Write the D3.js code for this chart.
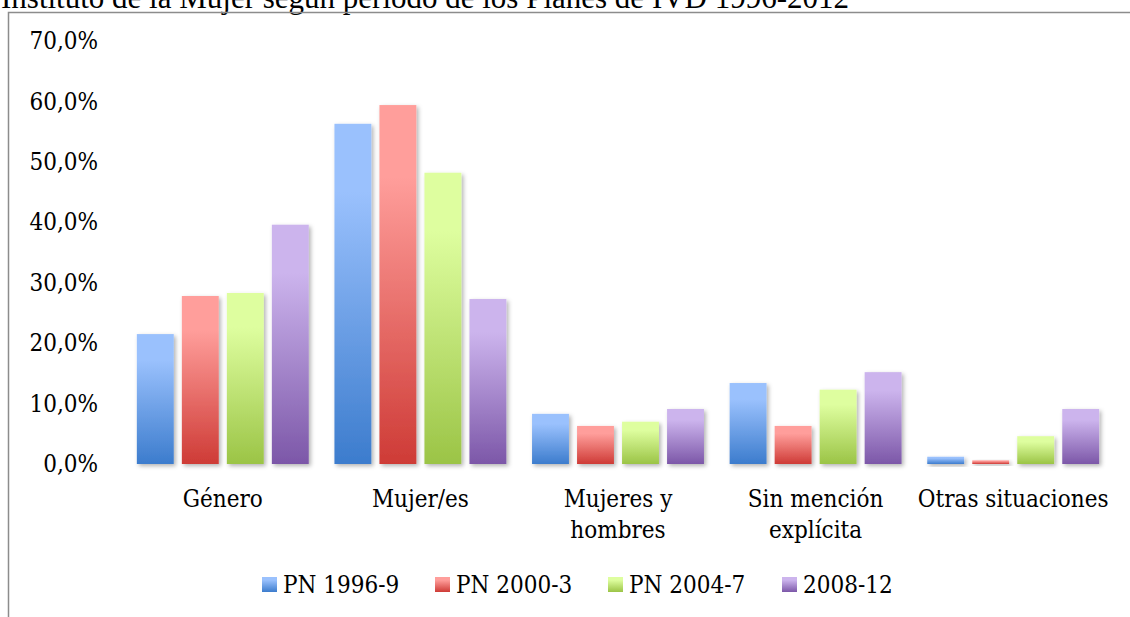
<!DOCTYPE html>
<meta charset="utf-8">
<script src="https://d3js.org/d3.v7.min.js"></script>
<style>
  body { margin: 0; background: #fff; overflow: hidden; }
  svg { display: block; }
  text { font-family: "DejaVu Serif Condensed", "DejaVu Serif", serif; fill: #000; }
</style>
<div id="my_dataviz"></div>
<script>

    // data (percent)
    const categories = ["Género", "Mujer/es", "Mujeres y hombres", "Sin mención explícita", "Otras situaciones"];
    const categoryLines = [["Género"], ["Mujer/es"], ["Mujeres y", "hombres"], ["Sin mención", "explícita"], ["Otras situaciones"]];
    const series = ["PN 1996-9", "PN 2000-3", "PN 2004-7", "2008-12"];
    const pn1996 = [21.5, 56.3, 8.3, 13.4, 1.2];
    const pn2000 = [27.8, 59.4, 6.3, 6.3, 0.6];
    const pn2004 = [28.3, 48.2, 7.0, 12.3, 4.6];
    const pn2008 = [39.6, 27.3, 9.1, 15.2, 9.1];
    const yTicks = [0, 10, 20, 30, 40, 50, 60, 70];
    const title = "Instituto de la Mujer según período de los Planes de IVD 1996-2012";

    const values = [pn1996, pn2000, pn2004, pn2008];
    const gradients = [
      ["#9ac1fd", "#3c7ccd"],
      ["#ff9e9b", "#ce3b36"],
      ["#defe9f", "#9bc446"],
      ["#ccb4ed", "#7c57a8"]
    ];

    const W = 1130, H = 617;
    const margin = {top: 41, right: 18, bottom: 153, left: 124};

    const svg = d3.select("#my_dataviz")
      .append("svg")
        .attr("width", W)
        .attr("height", H);

    const defs = svg.append("defs");
    gradients.forEach(function(g, i) {
      const lg = defs.append("linearGradient")
        .attr("id", "grad" + i)
        .attr("x1", 0).attr("y1", 0).attr("x2", 0).attr("y2", 1);
      lg.append("stop").attr("offset", "0%").attr("stop-color", g[0]);
      lg.append("stop").attr("offset", "20%").attr("stop-color", g[0]);
      lg.append("stop").attr("offset", "100%").attr("stop-color", g[1]);
    });
    defs.append("filter")
        .attr("id", "shadow")
        .attr("x", "-20%").attr("y", "-20%").attr("width", "150%").attr("height", "150%")
      .append("feDropShadow")
        .attr("dx", 2).attr("dy", 2).attr("stdDeviation", 2)
        .attr("flood-color", "#000").attr("flood-opacity", 0.3);

    // title, cut at the top as in the source
    svg.append("text")
      .attr("x", 1)
      .attr("y", 8)
      .style("font-family", "'Liberation Serif', serif")
      .style("font-size", "31px")
      .text(title);

    // frame
    svg.append("path")
      .attr("d", "M8.5," + H + "V12.5H" + W)
      .attr("fill", "none")
      .attr("stroke", "#8c8c8c")
      .attr("stroke-width", 1.5);

    // X scales
    const x0 = d3.scaleBand()
      .domain(categories)
      .range([margin.left, W - margin.right])
      .paddingInner(0.13)
      .paddingOuter(0.065);
    const x1 = d3.scaleBand()
      .domain(series)
      .range([0, x0.bandwidth()])
      .paddingInner(0.18);

    // Y scale
    const y = d3.scaleLinear()
      .domain([0, 70])
      .range([H - margin.bottom, margin.top]);

    const fmt = d3.formatLocale({decimal: ",", thousands: ".", grouping: [3], currency: ["", "€"]}).format(".1f");

    // Y axis with gridlines
    const yAxis = svg.append("g")
      .attr("transform", `translate(${margin.left},0)`)
      .call(d3.axisLeft(y)
        .tickValues(yTicks)
        .tickSize(-(W - margin.left - margin.right))
        .tickPadding(26)
        .tickFormat(function(d) { return fmt(d) + "%"; }));
    yAxis.select(".domain").remove();
    yAxis.selectAll(".tick line")
      .attr("stroke", "#878787")
      .attr("stroke-width", 2)
      .attr("filter", "url(#shadow)");
    yAxis.selectAll(".tick text")
      .style("font-size", "24px")
      .style("font-family", "'DejaVu Serif Condensed', serif");

    // Bars
    const groups = svg.selectAll("g.cat")
      .data(categories)
      .join("g")
        .attr("class", "cat")
        .attr("transform", function(d) { return `translate(${x0(d)},0)`; });

    groups.selectAll("rect")
      .data(function(d, ci) { return series.map(function(s, si) { return {s: s, si: si, v: values[si][ci]}; }); })
      .join("rect")
        .attr("x", function(d) { return x1(d.s); })
        .attr("y", function(d) { return y(d.v); })
        .attr("width", x1.bandwidth())
        .attr("height", function(d) { return y(0) - y(d.v); })
        .attr("fill", function(d) { return "url(#grad" + d.si + ")"; })
        .attr("filter", "url(#shadow)");

    // Category labels
    const labels = svg.append("g")
      .selectAll("text")
      .data(categories)
      .join("text")
        .attr("text-anchor", "middle")
        .attr("x", function(d) { return x0(d) + x0.bandwidth() / 2; })
        .attr("y", 507)
        .style("font-size", "24px");
    labels.selectAll("tspan")
      .data(function(d, i) { return categoryLines[i]; })
      .join("tspan")
        .attr("x", function() { return d3.select(this.parentNode).attr("x"); })
        .attr("dy", function(d, i) { return i === 0 ? 0 : 31; })
        .text(function(d) { return d; });

    // Legend
    const legendX = [262, 435, 608, 782];
    const legend = svg.append("g")
      .selectAll("g")
      .data(series)
      .join("g")
        .attr("transform", function(d, i) { return `translate(${legendX[i]},577)`; });
    legend.append("rect")
      .attr("width", 15)
      .attr("height", 15)
      .attr("fill", function(d, i) { return "url(#grad" + i + ")"; });
    legend.append("text")
      .attr("x", 21)
      .attr("y", 16)
      .style("font-size", "24px")
      .text(function(d) { return d; });

</script>
